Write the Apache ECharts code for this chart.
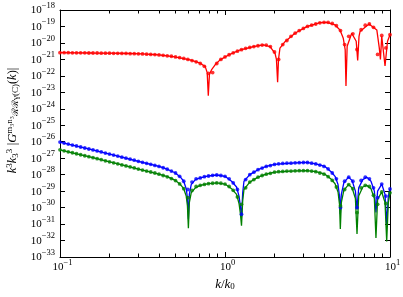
<!DOCTYPE html>
<html><head><meta charset="utf-8">
<script src="https://cdn.jsdelivr.net/npm/echarts@6/dist/echarts.min.js"></script>
<style>html,body{margin:0;padding:0;background:#fff}#c{width:403px;height:297px}</style>
</head><body><div id="c"></div>
<script>
// sampled k/k0 positions of the dots
const kGrid = [0.1,0.1059,0.1122,0.1189,0.1259,0.1334,0.1413,0.1496,0.1585,0.1679,
0.1778,0.1884,0.1995,0.2113,0.2239,0.2371,0.2512,0.2661,0.2818,0.2985,
0.3162,0.335,0.3548,0.3758,0.3981,0.4217,0.4467,0.4732,0.5012,0.5309,
0.5623,0.5957,0.631,0.6683,0.7079,0.7499,0.7943,0.8414,0.8913,0.9441,
1,1.059,1.122,1.189,1.259,1.334,1.413,1.496,1.585,1.679,
1.778,1.884,1.995,2.113,2.239,2.371,2.512,2.661,2.818,2.985,
3.162,3.35,3.548,3.758,3.981,4.217,4.467,4.732,5.012,5.309,
5.623,5.957,6.31,6.683,7.079,7.499,7.943,8.414,8.913,9.441,10];

const redDots = [2.57e-21,2.57e-21,2.57e-21,2.51e-21,2.51e-21,2.51e-21,2.51e-21,2.45e-21,2.45e-21,2.45e-21,
2.40e-21,2.40e-21,2.40e-21,2.34e-21,2.34e-21,2.29e-21,2.29e-21,2.24e-21,2.24e-21,2.19e-21,
2.14e-21,2.09e-21,2.00e-21,1.95e-21,1.86e-21,1.78e-21,1.66e-21,1.55e-21,1.41e-21,1.29e-21,
1.15e-21,1.00e-21,8.51e-22,7.08e-22,5.62e-22,3.80e-22,1.41e-22,1.58e-22,5.62e-22,1.00e-21,
1.41e-21,1.91e-21,2.51e-21,3.16e-21,3.89e-21,4.68e-21,5.37e-21,6.03e-21,6.76e-21,7.41e-21,
7.41e-21,6.03e-21,2.82e-21,1.00e-21,7.94e-21,1.41e-20,2.51e-20,3.89e-20,5.62e-20,7.59e-20,
1.00e-19,1.20e-19,1.41e-19,1.66e-19,1.78e-19,1.78e-19,1.51e-19,1.12e-19,5.62e-20,7.94e-21,
2.51e-20,3.55e-20,3.98e-21,6.31e-20,1.20e-19,1.41e-19,8.91e-20,2.00e-21,2.82e-20,5.01e-21,
3.16e-20];

const blueDots = [9.55e-27,8.32e-27,7.24e-27,6.31e-27,5.50e-27,4.79e-27,4.17e-27,3.63e-27,3.16e-27,2.75e-27,
2.40e-27,2.04e-27,1.78e-27,1.55e-27,1.35e-27,1.15e-27,1.00e-27,8.71e-28,7.59e-28,6.46e-28,
5.62e-28,4.90e-28,4.27e-28,3.63e-28,3.16e-28,2.63e-28,2.14e-28,1.66e-28,1.26e-28,7.94e-29,
3.98e-29,1.26e-29,3.55e-29,5.62e-29,6.31e-29,7.59e-29,8.32e-29,9.12e-29,9.55e-29,8.91e-29,
7.94e-29,5.62e-29,3.16e-29,1.26e-29,3.98e-31,5.01e-29,1.00e-28,1.41e-28,2.00e-28,2.51e-28,
3.16e-28,3.55e-28,4.17e-28,4.57e-28,4.79e-28,5.01e-28,5.01e-28,5.25e-28,5.37e-28,5.50e-28,
5.50e-28,5.01e-28,4.47e-28,3.80e-28,3.16e-28,2.24e-28,1.26e-28,5.62e-29,1.00e-30,3.98e-29,
7.08e-29,3.98e-29,1.00e-30,4.47e-29,7.08e-29,5.62e-29,1.58e-29,3.98e-30,2.69e-29,5.01e-30,
1.35e-29];

const greenDots = [3.24e-27,2.82e-27,2.45e-27,2.14e-27,1.86e-27,1.62e-27,1.41e-27,1.23e-27,1.07e-27,9.33e-28,
8.13e-28,6.92e-28,6.03e-28,5.25e-28,4.57e-28,3.89e-28,3.39e-28,2.95e-28,2.57e-28,2.19e-28,
1.91e-28,1.66e-28,1.45e-28,1.26e-28,1.07e-28,8.91e-29,7.41e-29,5.75e-29,4.37e-29,2.75e-29,
1.41e-29,3.98e-30,1.12e-29,1.91e-29,2.24e-29,2.57e-29,2.82e-29,3.02e-29,3.16e-29,3.02e-29,
2.69e-29,1.91e-29,1.12e-29,4.47e-30,1.58e-30,1.58e-29,3.55e-29,5.01e-29,7.08e-29,8.91e-29,
1.07e-28,1.20e-28,1.41e-28,1.51e-28,1.58e-28,1.66e-28,1.66e-28,1.70e-28,1.74e-28,1.74e-28,
1.74e-28,1.66e-28,1.51e-28,1.26e-28,1.07e-28,7.59e-29,4.47e-29,1.78e-29,1.26e-30,1.26e-29,
2.51e-29,1.41e-29,5.01e-31,1.58e-29,2.24e-29,1.91e-29,5.62e-30,1.58e-30,8.91e-30,1.78e-30,
7.94e-30];

// analytic curves
const kRedLine = [0.1,0.126,0.158,0.2,0.251,0.316,0.398,0.485,0.614,0.708,
0.759,0.78,0.792,0.805,0.832,0.871,0.933,1.072,1.23,1.486,
1.706,1.875,2.01,2.05,2.084,2.11,2.153,2.31,2.655,3.126,
3.767,4.13,4.645,4.977,5.21,5.35,5.41,5.5,5.86,6.24,
6.37,6.49,6.58,7.46,8.32,8.61,8.75,8.91,9.08,9.33,9.66,10];
const redLine = [2.57e-21,2.51e-21,2.45e-21,2.40e-21,2.29e-21,2.14e-21,1.86e-21,1.48e-21,9.33e-22,5.89e-22,
3.63e-22,1.58e-22,6.31e-24,1.26e-22,2.51e-22,4.68e-22,9.33e-22,2.04e-21,3.72e-21,6.03e-21,
7.59e-21,6.03e-21,2.34e-21,1.00e-21,4.17e-23,1.00e-21,4.79e-21,1.20e-20,3.89e-20,9.77e-20,
1.70e-19,1.78e-19,1.23e-19,6.17e-20,1.91e-20,3.98e-21,2.45e-23,6.31e-21,3.89e-20,1.26e-20,
8.51e-22,2.51e-20,4.90e-20,1.41e-19,6.17e-20,5.01e-21,1.00e-21,2.51e-20,3.16e-20,3.98e-22,1.26e-20,3.16e-20];

const kBGLine = [0.1,0.126,0.158,0.2,0.251,0.316,0.398,0.447,0.501,0.537,
0.562,0.582,0.592,0.6,0.608,0.624,0.661,0.708,0.794,0.891,
1.0,1.096,1.175,1.216,1.239,1.259,1.28,1.303,1.413,1.585,
1.778,1.995,2.512,3.126,3.548,4.036,4.426,4.645,4.842,4.943,
5.0,5.07,5.25,5.6,5.89,6.17,6.31,6.46,6.84,7.23,
7.67,8.04,8.22,8.41,8.91,9.33,9.55,9.77,10];
const blueLine = [9.55e-27,5.50e-27,3.16e-27,1.78e-27,1.00e-27,5.62e-28,3.16e-28,2.14e-28,1.26e-28,7.08e-29,
3.98e-29,1.41e-29,3.98e-30,2.00e-31,6.31e-30,2.51e-29,5.01e-29,6.31e-29,8.32e-29,9.55e-29,
7.94e-29,3.98e-29,1.78e-29,5.01e-30,1.26e-30,2.51e-31,7.94e-30,3.98e-29,1.00e-28,2.00e-28,
3.16e-28,4.17e-28,5.01e-28,5.50e-28,4.47e-28,3.16e-28,1.41e-28,7.94e-29,2.51e-29,5.01e-30,
3.98e-31,6.31e-30,3.16e-29,7.08e-29,4.47e-29,1.00e-29,7.94e-31,1.58e-29,5.01e-29,7.08e-29,
3.98e-29,1.00e-29,5.01e-31,1.00e-29,2.69e-29,6.31e-30,1.00e-31,5.01e-30,1.35e-29];
const greenLine = [3.24e-27,1.86e-27,1.07e-27,6.03e-28,3.39e-28,1.91e-28,1.07e-28,7.59e-29,4.47e-29,2.51e-29,
1.41e-29,5.01e-30,1.26e-30,5.62e-32,2.00e-30,7.94e-30,1.58e-29,2.24e-29,2.82e-29,3.16e-29,
2.69e-29,1.41e-29,6.31e-30,1.78e-30,4.47e-31,7.94e-32,2.51e-30,1.26e-29,3.55e-29,7.08e-29,
1.07e-28,1.41e-28,1.66e-28,1.74e-28,1.51e-28,1.07e-28,5.01e-29,2.82e-29,8.91e-30,1.58e-30,
5.01e-32,2.00e-30,1.12e-29,2.51e-29,1.58e-29,3.55e-30,2.51e-32,5.01e-30,1.78e-29,2.24e-29,
1.41e-29,3.55e-30,1.41e-32,3.16e-30,8.91e-30,2.00e-30,8.91e-33,2.00e-30,7.94e-30];

const xMajorTicks = [0.1, 1, 10];
const xMinorTicks = [0.2,0.3,0.4,0.5,0.6,0.7,0.8,0.9,2,3,4,5,6,7,8,9];
const yTicks = [1e-33,1e-32,1e-31,1e-30,1e-29,1e-28,1e-27,1e-26,1e-25,1e-24,1e-23,1e-22,1e-21,1e-20,1e-19,1e-18];
const yMin = 1e-33, yMax = 1e-18;

const FONT = 'Liberation Serif';
const zip = (a, b) => a.map((v, i) => [v, b[i]]);
const powLabel = v => {
  const e = Math.round(Math.log10(v));
  return '{b|10}{s|' + (e < 0 ? '\u2212' + (-e) : String(e)) + '}';
};
const labelRich = {
  b: {fontFamily: FONT, fontSize: 11, color: '#000', lineHeight: 12, verticalAlign: 'bottom'},
  s: {fontFamily: FONT, fontSize: 8.5, color: '#000', lineHeight: 9, padding: [0, 0, 6, 0], verticalAlign: 'bottom'}
};
const blk = {color: '#000', width: 1};

function xAx(pos) {
  return {
    type: 'log', logBase: 10, min: 0.1, max: 10, position: pos, gridIndex: 0,
    axisLine: {show: true, onZero: false, lineStyle: blk},
    axisTick: {show: true, inside: true, length: 5, customValues: xMajorTicks, lineStyle: blk},
    axisLabel: {show: pos === 'bottom', customValues: xMajorTicks, formatter: powLabel, rich: labelRich, margin: 4, padding: [0, 0, 0, 5]},
    splitLine: {show: false}
  };
}
function yAx(pos) {
  return {
    type: 'log', logBase: 10, min: yMin, max: yMax, position: pos, gridIndex: 0,
    axisLine: {show: true, onZero: false, lineStyle: blk},
    axisTick: {show: true, inside: true, length: 5, customValues: yTicks, lineStyle: blk},
    axisLabel: {show: pos === 'left', customValues: yTicks, formatter: powLabel, rich: labelRich, margin: 5},
    splitLine: {show: false}
  };
}

const xA = [xAx('bottom'), xAx('top')];
xA[0].name = '{i|k}{n|/}{i|k}{q|0}';
xA[0].nameLocation = 'middle';
xA[0].nameGap = 17;
xA[0].nameTextStyle = {rich: {
  i: {fontFamily: FONT, fontStyle: 'italic', fontSize: 13, color: '#000'},
  n: {fontFamily: FONT, fontSize: 13, color: '#000'},
  q: {fontFamily: FONT, fontSize: 9, color: '#000', padding: [5, 0, 0, 0]}
}};
const yA = [yAx('left'), yAx('right')];
yA[0].name = '{i|k}{p|3}{i|k}{q|3}{p|3} {n||}{i|G}{p|m\u2083n\u2083}{q|\u211B\u211B\u03B3(C)}{n|(}{i|k}{n|)|}';
yA[0].nameLocation = 'middle';
yA[0].nameRotate = 90;
yA[0].nameGap = 37;
yA[0].nameTextStyle = {padding: [0, 0, 0, 26], rich: {
  i: {fontFamily: FONT, fontStyle: 'italic', fontSize: 12.5, color: '#000'},
  n: {fontFamily: FONT, fontSize: 12.5, color: '#000'},
  p: {fontFamily: FONT, fontSize: 9, color: '#000', padding: [0, 0, 6, 0]},
  q: {fontFamily: FONT, fontSize: 9, color: '#000', padding: [6, 0, 0, 0]}
}};

function lineS(k, v, c) {
  return {type: 'line', xAxisIndex: 0, yAxisIndex: 0, data: zip(k, v), showSymbol: false, symbol: 'none',
    lineStyle: {color: c, width: 1.3}, itemStyle: {color: c}, z: 2, animation: false};
}
function dotS(k, v, c) {
  return {type: 'scatter', xAxisIndex: 0, yAxisIndex: 0, data: zip(k, v), symbolSize: 3.8,
    itemStyle: {color: c}, z: 3, animation: false};
}
// minor ticks of the log x axis (bottom and top), placed through the axis scale
const minorTicks = {
  type: 'custom', xAxisIndex: 0, yAxisIndex: 0, silent: true, clip: false, z: 6, animation: false,
  data: xMinorTicks.map(v => [v, yMin]),
  renderItem: (params, api) => {
    const b = api.coord([api.value(0), yMin]);
    const t = api.coord([api.value(0), yMax]);
    const x = Math.round(b[0] - 0.5) + 0.5;
    return {type: 'group', children: [
      {type: 'line', shape: {x1: x, y1: b[1], x2: x, y2: b[1] - 3.5}, style: {stroke: '#000', lineWidth: 1}},
      {type: 'line', shape: {x1: x, y1: t[1], x2: x, y2: t[1] + 3.5}, style: {stroke: '#000', lineWidth: 1}}
    ]};
  }
};

const chart = echarts.init(document.getElementById('c'), null, {renderer: 'canvas'});
chart.setOption({
  backgroundColor: '#fff',
  animation: false,
  grid: {left: 60, right: 13, top: 10, bottom: 40, containLabel: false, outerBoundsMode: 'none'},
  xAxis: xA,
  yAxis: yA,
  series: [
    lineS(kRedLine, redLine, '#ff0000'), dotS(kGrid, redDots, '#ff0000'),
    lineS(kBGLine, blueLine, '#0000ff'), dotS(kGrid, blueDots, '#0000ff'),
    lineS(kBGLine, greenLine, '#008000'), dotS(kGrid, greenDots, '#008000'),
    minorTicks
  ]
});
</script></body></html>
